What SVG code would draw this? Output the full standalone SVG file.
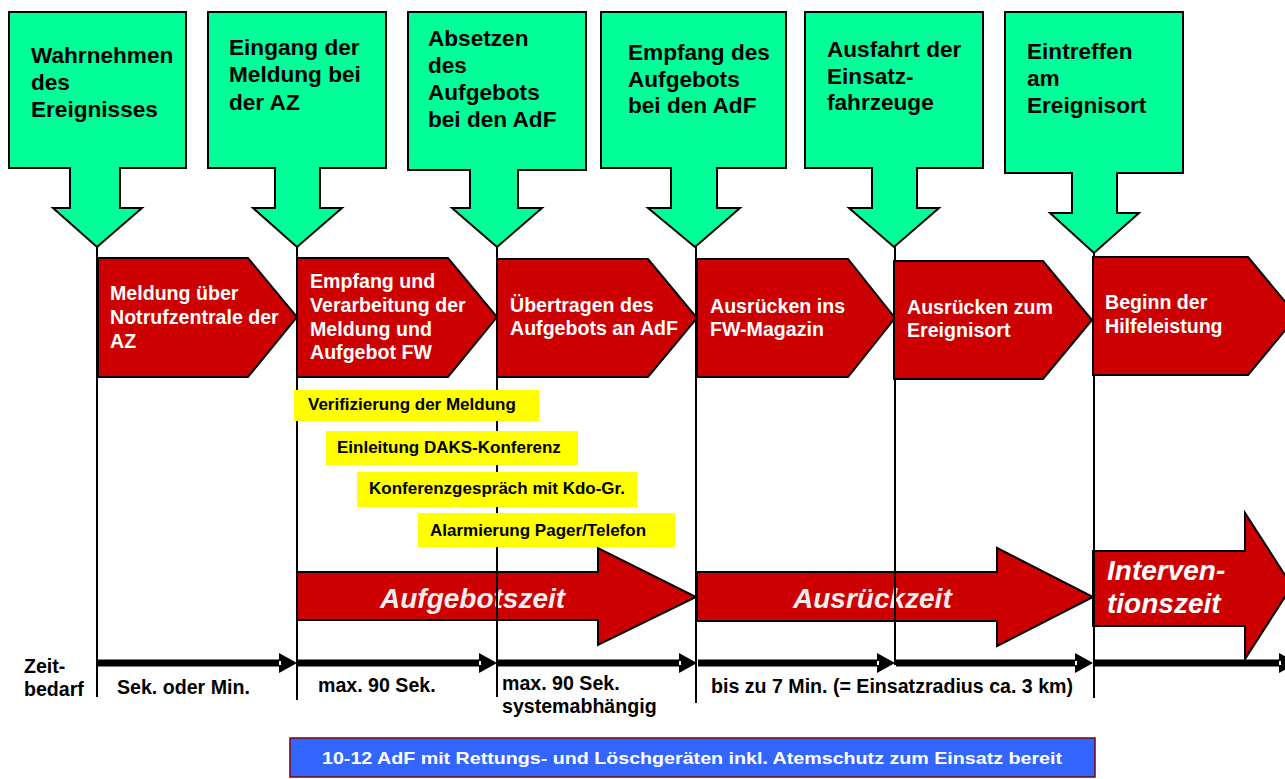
<svg xmlns="http://www.w3.org/2000/svg" width="1285" height="779" viewBox="0 0 1285 779">
<style>
.callout{fill:#00FF99;stroke:#000;stroke-width:2;stroke-linejoin:miter}
.ct{font-family:"Liberation Sans",Arial,sans-serif;font-weight:bold;font-size:22.6px;fill:#000}
.pent{fill:#CC0000;stroke:#000;stroke-width:2}
.pt{font-family:"Liberation Sans",Arial,sans-serif;font-weight:bold;font-size:19.6px;fill:#fff}
.yb{fill:#FFFF00}
.yt{font-family:"Liberation Sans",Arial,sans-serif;font-weight:bold;font-size:17px;fill:#000}
.big{fill:#CC0000;stroke:#000;stroke-width:2}
.bt{font-family:"Liberation Sans",Arial,sans-serif;font-weight:bold;font-style:italic;font-size:28px;fill:#EEEEEE}
.vl{stroke:#000;stroke-width:2;fill:none}
.tl{stroke:#000;stroke-width:7}
.lbl{font-family:"Liberation Sans",Arial,sans-serif;font-weight:bold;font-size:19.6px;fill:#000}
.blue{fill:#3366FF;stroke:#800000;stroke-width:1.5}
.bluet{font-family:"Liberation Sans",Arial,sans-serif;font-weight:bold;font-size:17px;fill:#fff}
</style>
<rect width="1285" height="779" fill="#fff"/>

<!-- big duration arrows -->
<g id="arrow-aufgebotszeit">
<polygon class="big" points="297,572 598,572 598,548 696,597 598,645 598,620 297,620"/>
<text class="bt" x="380" y="608">Aufgebotszeit</text>
</g>
<g id="arrow-ausrueckzeit">
<polygon class="big" points="697,572 997,572 997,548 1093,597 997,646 997,621 697,621"/>
<text class="bt" x="793" y="608">Ausrückzeit</text>
</g>
<g id="arrow-interventionszeit">
<polygon class="big" points="1093,551 1245,551 1245,513 1292,586 1245,659 1245,626 1093,626"/>
<text class="bt" x="1107" y="580" style="fill:#fff">Interven-</text>
<text class="bt" x="1107" y="613" style="fill:#fff">tionszeit</text>
</g>

<!-- connectors: vertical milestone lines and time axis -->
<g id="connectors">
<line class="vl" x1="97" y1="247" x2="97" y2="697"/>
<line class="vl" x1="297" y1="247" x2="297" y2="700"/>
<line class="vl" x1="497" y1="247" x2="497" y2="697"/>
<line class="vl" x1="696" y1="247" x2="696" y2="703"/>
<line class="vl" x1="895" y1="247" x2="895" y2="665"/>
<line class="vl" x1="1094" y1="253" x2="1094" y2="698"/>

<line class="tl" x1="98" y1="663" x2="282" y2="663"/>
<polygon points="279,653 297,663 279,673" fill="#000"/>
<rect x="279" y="661" width="2" height="4" fill="#fff"/>
<line class="tl" x1="298" y1="663" x2="482" y2="663"/>
<polygon points="479,653 497,663 479,673" fill="#000"/>
<rect x="479" y="661" width="2" height="4" fill="#fff"/>
<line class="tl" x1="498" y1="663" x2="682" y2="663"/>
<polygon points="679,653 697,663 679,673" fill="#000"/>
<rect x="679" y="661" width="2" height="4" fill="#fff"/>
<line class="tl" x1="698" y1="663" x2="880" y2="663"/>
<polygon points="877,653 895,663 877,673" fill="#000"/>
<rect x="877" y="661" width="2" height="4" fill="#fff"/>
<line class="tl" x1="896" y1="663" x2="1078" y2="663"/>
<polygon points="1075,653 1093,663 1075,673" fill="#000"/>
<rect x="1075" y="661" width="2" height="4" fill="#fff"/>
<line class="tl" x1="1095" y1="663" x2="1282" y2="663"/>
<polygon points="1279,653 1297,663 1279,673" fill="#000"/>
<rect x="1279" y="661" width="2" height="4" fill="#fff"/>
</g>

<!-- red process steps -->
<g id="step-1">
<polygon class="pent" points="98,258 248,258 297,317 248,377 98,377"/>
<text class="pt" x="110" y="300">Meldung über</text>
<text class="pt" x="110" y="324">Notrufzentrale der</text>
<text class="pt" x="110" y="348">AZ</text>
</g>
<g id="step-2">
<polygon class="pent" points="297,258 448,258 497,317 448,377 297,377"/>
<text class="pt" x="310" y="288">Empfang und</text>
<text class="pt" x="310" y="312">Verarbeitung der</text>
<text class="pt" x="310" y="336">Meldung und</text>
<text class="pt" x="310" y="359">Aufgebot FW</text>
</g>
<g id="step-3">
<polygon class="pent" points="497,259 648,259 697,318 648,377 497,377"/>
<text class="pt" x="510" y="312">Übertragen des</text>
<text class="pt" x="510" y="335">Aufgebots an AdF</text>
</g>
<g id="step-4">
<polygon class="pent" points="697,259 848,259 895,318 848,377 697,377"/>
<text class="pt" x="710" y="313">Ausrücken ins</text>
<text class="pt" x="710" y="336">FW-Magazin</text>
</g>
<g id="step-5">
<polygon class="pent" points="894,261 1043,261 1092,320 1043,379 894,379"/>
<text class="pt" x="907" y="314">Ausrücken zum</text>
<text class="pt" x="907" y="337">Ereignisort</text>
</g>
<g id="step-6">
<polygon class="pent" points="1093,257 1248,257 1297,316 1248,375 1093,375"/>
<text class="pt" x="1105" y="309">Beginn der</text>
<text class="pt" x="1105" y="333">Hilfeleistung</text>
</g>

<!-- yellow sub tasks -->
<g id="task-1">
<rect class="yb" x="294" y="390" width="245" height="31"/>
<text class="yt" x="308" y="410">Verifizierung der Meldung</text>
</g>
<g id="task-2">
<rect class="yb" x="326" y="431" width="252" height="34"/>
<text class="yt" x="337" y="453">Einleitung DAKS-Konferenz</text>
</g>
<g id="task-3">
<rect class="yb" x="357" y="472" width="280" height="35"/>
<text class="yt" x="369" y="494">Konferenzgespräch mit Kdo-Gr.</text>
</g>
<g id="task-4">
<rect class="yb" x="418" y="513" width="257" height="34"/>
<text class="yt" x="430" y="536">Alarmierung Pager/Telefon</text>
</g>

<!-- green milestone callouts -->
<g id="milestone-1">
<polygon class="callout" points="9,12 186,12 186,168 120,168 120,208 142,208 97,247 53,208 70,208 70,168 9,168"/>
<text class="ct" x="31" y="63">Wahrnehmen</text>
<text class="ct" x="31" y="90">des</text>
<text class="ct" x="31" y="117">Ereignisses</text>
</g>
<g id="milestone-2">
<polygon class="callout" points="208,12 386,12 386,168 320,168 320,208 342,208 297,247 253,208 275,208 275,168 208,168"/>
<text class="ct" x="229" y="55">Eingang der</text>
<text class="ct" x="229" y="82">Meldung bei</text>
<text class="ct" x="229" y="110">der AZ</text>
</g>
<g id="milestone-3">
<polygon class="callout" points="408,12 586,12 586,170 518,170 518,208 542,208 497,247 452,208 470,208 470,170 408,170"/>
<text class="ct" x="428" y="46">Absetzen</text>
<text class="ct" x="428" y="73">des</text>
<text class="ct" x="428" y="100">Aufgebots</text>
<text class="ct" x="428" y="127">bei den AdF</text>
</g>
<g id="milestone-4">
<polygon class="callout" points="601,12 786,12 786,168 717,168 717,208 740,208 695,247 648,208 671,208 671,168 601,168"/>
<text class="ct" x="628" y="60">Empfang des</text>
<text class="ct" x="628" y="87">Aufgebots</text>
<text class="ct" x="628" y="113">bei den AdF</text>
</g>
<g id="milestone-5">
<polygon class="callout" points="805,12 983,12 983,168 917,168 917,208 939,208 894,247 849,208 872,208 872,168 805,168"/>
<text class="ct" x="827" y="57">Ausfahrt der</text>
<text class="ct" x="827" y="84">Einsatz-</text>
<text class="ct" x="827" y="110">fahrzeuge</text>
</g>
<g id="milestone-6">
<polygon class="callout" points="1005,12 1183,12 1183,173 1117,173 1117,213 1139,213 1094,253 1050,213 1072,213 1072,173 1005,173"/>
<text class="ct" x="1027" y="59">Eintreffen</text>
<text class="ct" x="1027" y="86">am</text>
<text class="ct" x="1027" y="113">Ereignisort</text>
</g>

<!-- time labels -->
<g id="time-labels">
<text class="lbl" x="24" y="673">Zeit-</text>
<text class="lbl" x="24" y="696">bedarf</text>
<text class="lbl" x="117" y="694">Sek. oder Min.</text>
<text class="lbl" x="318" y="692">max. 90 Sek.</text>
<text class="lbl" x="502" y="690">max. 90 Sek.</text>
<text class="lbl" x="502" y="713">systemabhängig</text>
<text class="lbl" x="711" y="693">bis zu 7 Min. (= Einsatzradius ca. 3 km)</text>
</g>

<!-- summary box -->
<g id="summary">
<rect class="blue" x="290" y="738" width="805" height="39"/>
<text class="bluet" x="692" y="764" text-anchor="middle" textLength="740" lengthAdjust="spacingAndGlyphs">10-12 AdF mit Rettungs- und Löschgeräten inkl. Atemschutz zum Einsatz bereit</text>
</g>
</svg>
